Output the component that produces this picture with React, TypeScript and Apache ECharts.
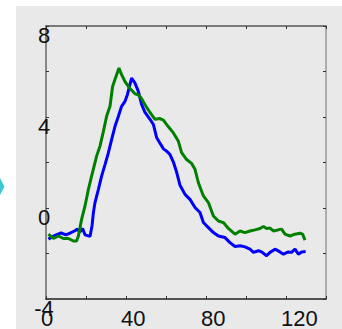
import React, { useEffect, useRef } from "react";
import * as echarts from "echarts";

const xTicks = { min: 0, max: 140, step: 20 };
const yTicks = { min: -4, max: 8, step: 2 };

const blueSeries: [number, number][] = [
  [1.2, -1.37], [4.5, -1.2], [7.5, -1.1], [10, -1.18], [12, -1.1], [14.5, -1.0], [15.5, -0.93],
  [17, -1.05], [18.3, -0.9], [19.5, -1.18], [22, -1.25], [23, -0.79], [23.7, -0.2], [24.5, 0.24],
  [26.2, 0.82], [27.8, 1.4], [29.5, 1.91], [31.2, 2.43], [32.8, 3.01], [34.5, 3.59], [36.2, 4.03],
  [37.8, 4.47], [39.5, 4.69], [40.7, 4.98], [41.7, 5.34], [42.8, 5.71], [44.5, 5.49], [46.2, 5.12],
  [47.8, 4.55], [49.5, 4.2], [52, 3.9], [53.7, 3.67], [55.3, 3.1], [57, 2.85], [58.7, 2.6],
  [60.3, 2.5], [62, 2.35], [63.7, 2.02], [65.3, 1.58], [67, 1.0], [69.5, 0.6], [72, 0.38],
  [74.5, 0.02], [77, -0.2], [78.7, -0.64], [81.2, -0.86], [83.7, -1.08], [86.2, -1.23],
  [89.5, -1.3], [92, -1.52], [94.5, -1.69], [97, -1.66], [99.5, -1.71], [102, -1.81],
  [103.7, -1.95], [106.2, -1.88], [107.8, -1.93], [110.3, -2.1], [112, -1.95], [114.5, -1.81],
  [117, -1.93], [118.7, -2.03], [121.2, -1.93], [122.8, -1.95], [124.5, -1.81], [126.2, -2.03],
  [127.8, -1.93], [129.8, -1.91],
];

const greenSeries: [number, number][] = [
  [1.2, -1.15], [3.7, -1.34], [6.2, -1.23], [8.7, -1.34], [11.2, -1.34], [13.7, -1.45],
  [15.3, -1.45], [16.2, -1.23], [17.8, -0.5], [19.5, 0.09], [21.2, 0.82], [22.8, 1.4],
  [25.3, 2.28], [27, 2.72], [28.7, 3.37], [30.3, 4.03], [32, 4.47], [33.3, 5.34], [35, 5.78],
  [36.5, 6.15], [37.8, 5.86], [39.5, 5.56], [42, 5.25], [44.5, 5.02], [46, 4.98], [47.5, 4.85],
  [49.5, 4.54], [52, 4.2], [54.5, 3.9], [57, 3.93], [58.7, 3.86], [61.2, 3.57], [63.7, 3.3],
  [66.2, 2.93], [67.8, 2.43], [70.3, 2.13], [72.8, 1.96], [74.5, 1.7], [76.2, 1.11], [78.7, 0.53],
  [81.2, 0.24], [83.7, -0.35], [86.2, -0.57], [88.7, -0.64], [91.2, -0.9], [94.5, -1.15],
  [97, -1.01], [99.5, -1.08], [102, -1.01], [104.5, -0.96], [107, -0.9], [108.7, -0.81],
  [110.3, -0.9], [112, -0.88], [113.7, -1.01], [116.2, -0.96], [117.8, -0.93], [119.5, -1.15],
  [122, -1.23], [124.5, -1.15], [127, -1.11], [128.3, -1.15], [129.5, -1.41],
];

export default function App() {
  const ref = useRef<HTMLDivElement>(null);
  useEffect(() => {
    if (!ref.current) return;
    const chart = echarts.init(ref.current, null, { renderer: "svg" });
    const font = "'Liberation Sans', Arial, sans-serif";
    const tick = (color: string) => ({ show: true, inside: true, length: 3, lineStyle: { color, width: 1 } });
    chart.setOption({
      animation: false,
      graphic: [
        { type: "rect", shape: { x: 16, y: 6, width: 326, height: 323 }, style: { fill: "#e9e9e9" }, z: -10, silent: true },
        { type: "polygon", shape: { points: [[0, 178], [4.5, 186.5], [0, 195]] }, style: { fill: "#3cc8d6" }, silent: true },
      ],
      grid: { left: 46, right: 16, top: 26, bottom: 29, containLabel: false },
      xAxis: [
        {
          type: "value", position: "bottom", min: xTicks.min, max: xTicks.max, interval: xTicks.step,
          axisLine: { onZero: false, lineStyle: { color: "#222", width: 1.5 } },
          axisTick: tick("#333"),
          splitLine: { show: false },
          axisLabel: {
            interval: 1, color: "#111", fontSize: 22, fontFamily: font, align: "left",
            margin: 8, padding: [0, 0, 0, -5],
            formatter: (v: number) => (v % 40 === 0 ? String(v) : ""),
          },
        },
        {
          type: "value", position: "top", min: xTicks.min, max: xTicks.max, interval: xTicks.step,
          axisLine: { onZero: false, lineStyle: { color: "#555", width: 1.5 } },
          axisTick: tick("#333"),
          splitLine: { show: false },
          axisLabel: { show: false },
        },
      ],
      yAxis: [
        {
          type: "value", position: "left", min: yTicks.min, max: yTicks.max, interval: yTicks.step,
          axisLine: { show: true, onZero: false, lineStyle: { color: "#666", width: 1.5 } },
          axisTick: tick("#333"),
          splitLine: { show: false },
          axisLabel: {
            color: "#111", fontSize: 22, fontFamily: font, align: "center", verticalAlign: "top",
            margin: 2, padding: [-2, 0, 0, 0],
            formatter: (v: number) => (v % 4 === 0 ? String(v) : ""),
          },
        },
        {
          type: "value", position: "right", min: yTicks.min, max: yTicks.max, interval: yTicks.step,
          axisLine: { show: true, onZero: false, lineStyle: { color: "#999", width: 1.5 } },
          axisTick: tick("#333"),
          splitLine: { show: false },
          axisLabel: { show: false },
        },
      ],
      series: [
        { type: "line", data: blueSeries, showSymbol: false, lineStyle: { color: "#0000ff", width: 3 }, itemStyle: { color: "#0000ff" } },
        { type: "line", data: greenSeries, showSymbol: false, lineStyle: { color: "#008000", width: 3 }, itemStyle: { color: "#008000" } },
      ],
    });
    return () => chart.dispose();
  }, []);
  return <div ref={ref} style={{ position: "absolute", left: 0, top: 0, width: 342, height: 329 }} />;
}
